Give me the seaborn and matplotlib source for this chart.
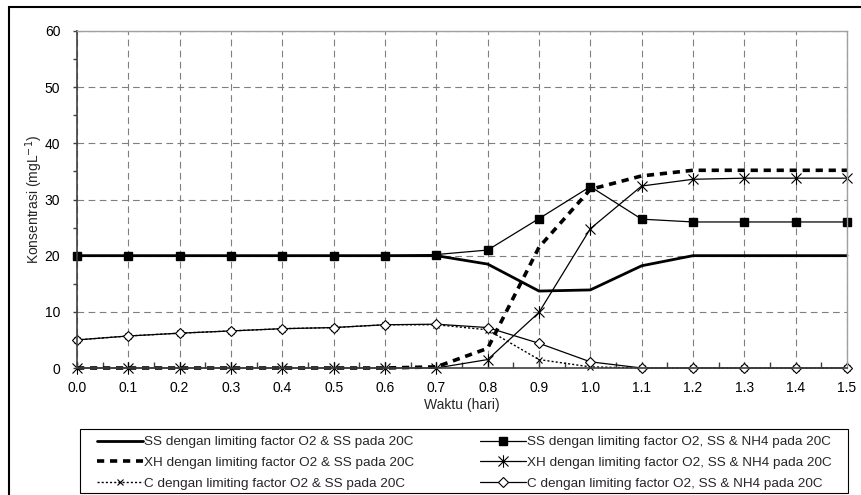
import matplotlib
matplotlib.use("Agg")
import matplotlib.pyplot as plt
import seaborn as sns
import pandas as pd
from matplotlib.path import Path
from matplotlib.patches import Rectangle
from matplotlib.ticker import MultipleLocator, FormatStrFormatter

# ---- data ----
waktu = [0.0, 0.1, 0.2, 0.3, 0.4, 0.5, 0.6, 0.7, 0.8, 0.9, 1.0, 1.1, 1.2, 1.3, 1.4, 1.5]
ss = [20, 20, 20, 20, 20, 20, 20, 20, 18.5, 13.7, 13.9, 18.2, 20, 20, 20, 20]
xh = [0, 0, 0, 0, 0, 0, 0, 0.2, 3.5, 21.5, 31.8, 34.2, 35.2, 35.2, 35.2, 35.2]
c = [5.0, 5.7, 6.2, 6.6, 7.0, 7.2, 7.7, 7.7, 6.8, 1.5, 0.2, 0, 0, 0, 0, 0]
ss_nh4 = [20, 20, 20, 20, 20, 20, 20, 20.2, 21.0, 26.6, 32.3, 26.5, 26.0, 26.0, 26.0, 26.0]
xh_nh4 = [0, 0, 0, 0, 0, 0, 0, 0, 1.5, 9.9, 24.8, 32.4, 33.6, 33.8, 33.8, 33.8]
c_nh4 = [5.0, 5.7, 6.2, 6.6, 7.0, 7.2, 7.7, 7.8, 7.2, 4.4, 1.1, 0, 0, 0, 0, 0]

labels = [
    "SS dengan limiting factor O2 & SS pada 20C",
    "XH dengan limiting factor O2 & SS pada 20C",
    "C dengan limiting factor O2 & SS pada 20C",
    "SS dengan limiting factor O2, SS & NH4 pada 20C",
    "XH dengan limiting factor O2, SS & NH4 pada 20C",
    "C dengan limiting factor O2, SS & NH4 pada 20C",
]
series = [ss, xh, c, ss_nh4, xh_nh4, c_nh4]

rows = []
for lab, vals in zip(labels, series):
    for t, v in zip(waktu, vals):
        rows.append({"Waktu": t, "Konsentrasi": v, "Seri": lab})
df = pd.DataFrame(rows)

sns.set_theme(style="white")
plt.rcParams["font.family"] = ["Liberation Sans", "DejaVu Sans"]

# asterisk marker: vertical bar + x
ast = Path([(-1, -1), (1, 1), (-1, 1), (1, -1), (0, -1.25), (0, 1.25)],
           [Path.MOVETO, Path.LINETO, Path.MOVETO, Path.LINETO, Path.MOVETO, Path.LINETO])

styles = [
    dict(lw=2.0, marker=None, ls="-"),
    dict(lw=2.6, marker=None, ls=(0, (2.0, 1.6))),
    dict(lw=1.0, marker="x", ms=5, mew=0.8, ls=(0, (1.5, 1.5))),
    dict(lw=0.9, marker="s", ms=5.5, mfc="black", mec="black", ls="-"),
    dict(lw=0.9, marker=ast, ms=9, mew=0.8, mfc="none", ls="-"),
    dict(lw=0.9, marker="D", ms=5, mfc="white", mec="black", mew=0.8, ls="-"),
]

fig = plt.figure(figsize=(8.61, 4.95), dpi=100)
ax = fig.add_axes([77 / 861, 1 - 368 / 495, (847 - 77) / 861, (368 - 31) / 495])

for lab, st in zip(labels, styles):
    sub = df[df["Seri"] == lab]
    kw = dict(color="black", linewidth=st["lw"], linestyle=st["ls"], clip_on=False)
    if st.get("marker") is not None:
        kw.update(marker=st["marker"], markersize=st["ms"],
                  markerfacecolor=st.get("mfc", "black"),
                  markeredgecolor=st.get("mec", "black"),
                  markeredgewidth=st.get("mew", 1.0))
    sns.lineplot(data=sub, x="Waktu", y="Konsentrasi", ax=ax, label=lab, **kw)

ax.set_xlim(0, 1.5)
ax.set_ylim(0, 60)
ax.xaxis.set_major_locator(MultipleLocator(0.1))
ax.xaxis.set_minor_locator(MultipleLocator(0.05))
ax.yaxis.set_major_locator(MultipleLocator(10))
ax.yaxis.set_minor_locator(MultipleLocator(5))
ax.xaxis.set_major_formatter(FormatStrFormatter("%.1f"))
ax.grid(True, which="major", color="#7f7f7f", linestyle=(0, (6, 4)), linewidth=0.8)
ax.set_axisbelow(True)
for s in ["left", "bottom"]:
    ax.spines[s].set_color("#404040")
    ax.spines[s].set_linewidth(1.2)
for s in ["top", "right"]:
    ax.spines[s].set_color("#a0a0a0")
    ax.spines[s].set_linewidth(1.0)
ax.tick_params(axis="x", which="both", direction="in", length=4, width=1, colors="#404040",
               labelcolor="black", labelsize=10, pad=9, bottom=True)
ax.tick_params(axis="y", which="both", direction="out", length=3, width=1, colors="#404040",
               labelcolor="black", labelsize=10, pad=9, left=True)
ax.set_xlabel("Waktu (hari)", fontsize=10)
ax.set_ylabel("Konsentrasi (mgL$^{-1}$)", fontsize=10)
ax.xaxis.set_label_coords(0.5, -(405 - 368) / 337, transform=ax.transAxes)
ax.xaxis.label.set_va("center")
ax.yaxis.set_label_coords(-(77 - 34) / 770, 0.5, transform=ax.transAxes)
ax.yaxis.label.set_va("center")

h, l = ax.get_legend_handles_labels()
if ax.get_legend() is not None:
    ax.get_legend().remove()
leg = fig.legend(h, l, ncol=2, loc="upper left",
                 bbox_to_anchor=(97 / 861, 1 - 436 / 495),
                 fontsize=9.7, frameon=False, handlelength=3.4, handletextpad=0.1,
                 labelspacing=0.62, borderpad=0, columnspacing=4.9,
                 borderaxespad=0)

fig.patches.append(Rectangle((80 / 861, 2 / 495), (848 - 80) / 861, (493 - 429) / 495,
                             transform=fig.transFigure, fill=False, edgecolor="black",
                             linewidth=0.8))
fig.patches.append(Rectangle((9 / 861, -0.1), 1.2, 1 - 7 / 495 + 0.1, transform=fig.transFigure,
                             fill=False, edgecolor="black", linewidth=1.5))

fig.savefig("out.png", dpi=100)
